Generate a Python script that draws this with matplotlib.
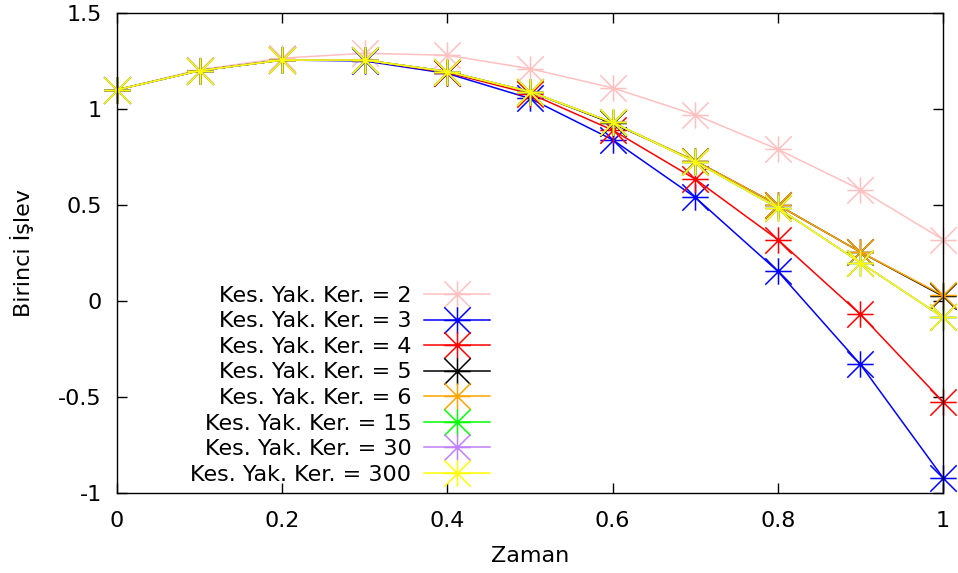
import matplotlib

matplotlib.use("Agg")
import matplotlib.pyplot as plt
import numpy as np
from matplotlib.path import Path

plt.rcParams["font.family"] = ["DejaVu Sans"]

zaman = [0.0, 0.1, 0.2, 0.3, 0.4, 0.5, 0.6, 0.7, 0.8, 0.9, 1.0]

ker_2 = [1.10, 1.205, 1.265, 1.29, 1.28, 1.21, 1.11, 0.97, 0.79, 0.58, 0.32]
ker_3 = [1.10, 1.20, 1.255, 1.25, 1.185, 1.055, 0.84, 0.54, 0.155, -0.33, -0.92]
ker_4 = [1.10, 1.20, 1.255, 1.255, 1.19, 1.08, 0.89, 0.635, 0.32, -0.07, -0.525]
ker_5 = [1.10, 1.20, 1.255, 1.255, 1.195, 1.09, 0.925, 0.73, 0.50, 0.255, 0.025]
ker_6 = [1.10, 1.20, 1.255, 1.255, 1.195, 1.09, 0.93, 0.73, 0.50, 0.255, 0.03]
ker_15 = [1.10, 1.20, 1.255, 1.255, 1.195, 1.09, 0.93, 0.725, 0.485, 0.20, -0.085]
ker_30 = [1.10, 1.20, 1.255, 1.255, 1.195, 1.09, 0.93, 0.725, 0.485, 0.20, -0.085]
ker_300 = [1.10, 1.20, 1.255, 1.255, 1.195, 1.09, 0.93, 0.725, 0.485, 0.20, -0.085]

labels = ["Kes. Yak. Ker. = 2", "Kes. Yak. Ker. = 3", "Kes. Yak. Ker. = 4",
          "Kes. Yak. Ker. = 5", "Kes. Yak. Ker. = 6", "Kes. Yak. Ker. = 15",
          "Kes. Yak. Ker. = 30", "Kes. Yak. Ker. = 300"]
series = [ker_2, ker_3, ker_4, ker_5, ker_6, ker_15, ker_30, ker_300]
colors = ["#ffc0c0", "#0000ff", "#ff0000", "#000000", "#ffa500", "#00ff00",
          "#c080ff", "#ffff00"]

# gnuplot-style asterisk: a plus and a cross drawn together
star = Path(
    [(-1, 0), (1, 0), (0, -1), (0, 1), (-1, -1), (1, 1), (-1, 1), (1, -1)],
    [Path.MOVETO, Path.LINETO] * 4,
)

FS = 16

fig = plt.figure(figsize=(9.58, 5.73), dpi=100)
ax = fig.add_axes([117 / 958, 80 / 573, 826 / 958, 480 / 573])

for ys, lab, c in zip(series, labels, colors):
    ax.plot(zaman, ys, color=c, lw=1.1, marker=star, ms=19, mec=c, mfc="none",
            mew=1.1, label=lab, clip_on=False)

ax.set_xlim(0, 1)
ax.set_ylim(-1, 1.5)
ax.set_xticks(np.arange(0, 1.01, 0.2))
ax.set_xticklabels(["0", "0.2", "0.4", "0.6", "0.8", "1"])
ax.set_yticks([-1, -0.5, 0, 0.5, 1, 1.5])
ax.set_yticklabels(["-1", "-0.5", "0", "0.5", "1", "1.5"])
ax.tick_params(direction="in", length=7, width=1, top=True, right=True,
               labelsize=FS, colors="black")
ax.tick_params(axis="x", pad=13)
ax.tick_params(axis="y", pad=11)
for sp in ax.spines.values():
    sp.set_linewidth(1)
ax.set_xlabel("Zaman", fontsize=FS, labelpad=11)
ax.set_ylabel("Birinci İşlev", fontsize=FS, labelpad=17)

leg = ax.legend(loc="upper right", bbox_to_anchor=(508 / 958, 1 - 268 / 573),
                bbox_transform=fig.transFigure, frameon=False, markerfirst=False,
                fontsize=FS, handlelength=3.0, handletextpad=0.55,
                labelspacing=0.25, numpoints=1, borderpad=0.3)

fig.savefig("out.png", dpi=100)
